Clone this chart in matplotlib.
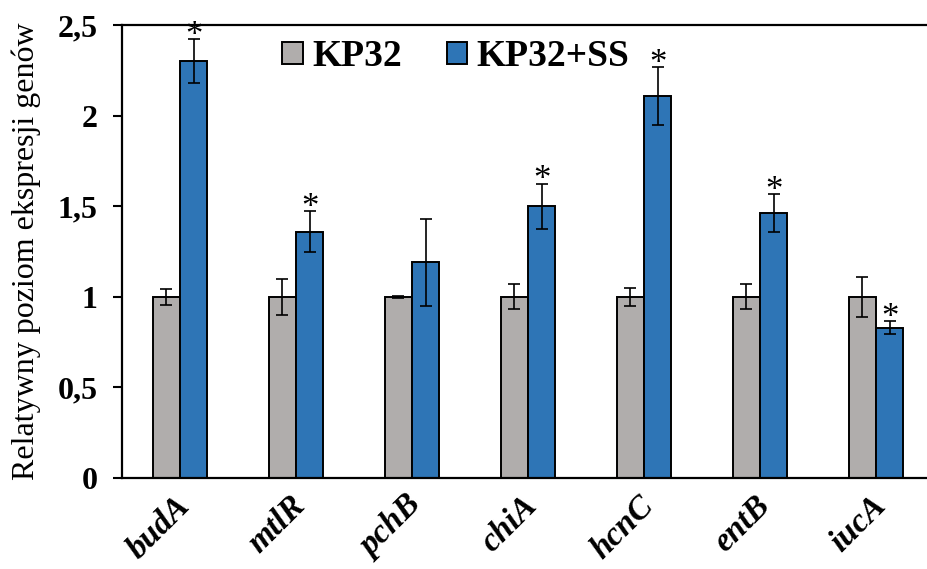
import numpy as np
import matplotlib.pyplot as plt
import matplotlib.transforms as mtransforms
from matplotlib.ticker import FuncFormatter

genes = ['budA', 'mtlR', 'pchB', 'chiA', 'hcnC', 'entB', 'iucA']
kp32 = [1.0, 1.0, 1.0, 1.0, 1.0, 1.0, 1.0]
kp32_err = [0.045, 0.10, 0.005, 0.07, 0.05, 0.07, 0.11]
kp32_ss = [2.30, 1.36, 1.19, 1.50, 2.11, 1.46, 0.83]
kp32_ss_err = [0.12, 0.115, 0.24, 0.125, 0.16, 0.105, 0.035]
significant = [True, True, False, True, True, True, True]

plt.rcParams['font.family'] = ['Liberation Serif', 'DejaVu Serif']

fig = plt.figure(figsize=(9.27, 5.69), dpi=100)
ax = fig.add_axes([122 / 927, 91 / 569, 812 / 927, 453 / 569])

x = np.arange(len(genes))
w = 0.235
err_kw = dict(ecolor='black', elinewidth=1.2, capsize=4.5, capthick=1.2)

ax.bar(x - w / 2, kp32, w, yerr=kp32_err, color='#b0adac', edgecolor='black',
       linewidth=1.4, error_kw=err_kw, label='KP32')
ax.bar(x + w / 2, kp32_ss, w, yerr=kp32_ss_err, color='#2e75b6', edgecolor='black',
       linewidth=1.4, error_kw=err_kw, label='KP32+SS')

# asterisks above significant KP32+SS bars
for xi, v, e, s in zip(x, kp32_ss, kp32_ss_err, significant):
    if s:
        ax.annotate('*', (xi + w / 2, v + e), xytext=(0, -10), textcoords='offset points',
                    ha='center', va='bottom', fontsize=25)

ax.set_xlim(-0.5, len(genes) - 0.5)
ax.set_ylim(0, 2.5)
ax.set_yticks(np.arange(0, 2.51, 0.5))
ax.yaxis.set_major_formatter(FuncFormatter(lambda v, p: f'{v:g}'.replace('.', ',')))
ax.tick_params(axis='y', direction='out', length=6.5, width=1.5, pad=11, labelsize=23)
for t in ax.get_yticklabels():
    t.set_fontweight('bold')

ax.set_xticks(x)
ax.set_xticklabels(genes, rotation=45, ha='right', rotation_mode='anchor',
                   fontsize=24, fontweight='bold', fontstyle='italic')
ax.tick_params(axis='x', length=0, pad=11)
shift = mtransforms.ScaledTranslation(-6 / 100, 3 / 100, fig.dpi_scale_trans)
for t in ax.get_xticklabels():
    t.set_transform(t.get_transform() + shift)

ax.spines['right'].set_visible(False)
for side in ['left', 'bottom', 'top']:
    ax.spines[side].set_linewidth(1.6)

ax.set_ylabel('Relatywny poziom ekspresji genów', fontsize=23, labelpad=12)

ax.legend(loc='center', bbox_to_anchor=(0.411, 0.93), ncol=2, frameon=False,
          prop={'weight': 'bold', 'size': 27}, handlelength=0.55, handleheight=0.55,
          handletextpad=0.25, columnspacing=1.2, borderpad=0)

fig.savefig('out.png', dpi=100)
